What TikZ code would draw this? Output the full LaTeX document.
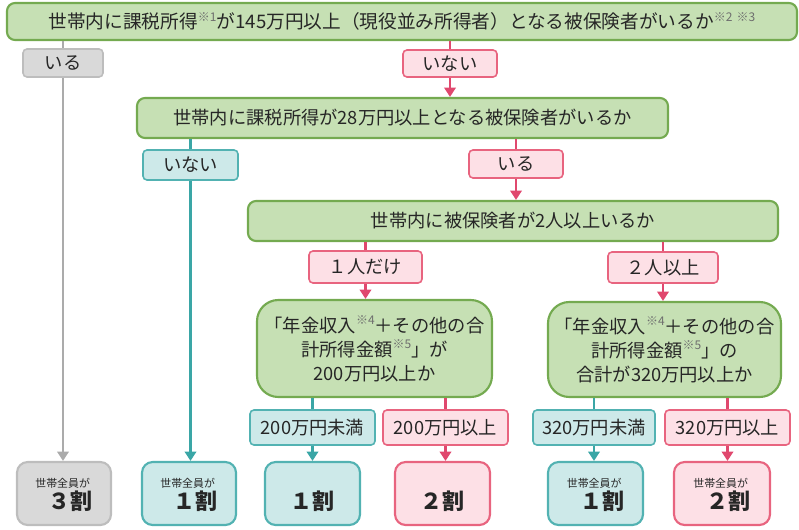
\documentclass[tikz,border=0pt]{standalone}
\usepackage{fontspec}
\setmainfont{Noto Sans CJK JP}
\usetikzlibrary{arrows.meta}
\definecolor{gfill}{HTML}{C6E0B4}
\definecolor{gdraw}{HTML}{74AA50}
\definecolor{grfill}{HTML}{D9D9D9}
\definecolor{grdraw}{HTML}{BDBDBD}
\definecolor{grline}{HTML}{ABABAB}
\definecolor{pfill}{HTML}{FDE0E6}
\definecolor{pdraw}{HTML}{E8647F}
\definecolor{pline}{HTML}{E0486E}
\definecolor{tfill}{HTML}{CDE9E9}
\definecolor{tdraw}{HTML}{52B2B2}
\definecolor{tline}{HTML}{3AA6A6}
\definecolor{txt}{HTML}{262626}
\definecolor{kome}{HTML}{6E6E6E}
\newcommand\kome[1]{\raisebox{0.42em}{\fontsize{9}{9}\selectfont\color{kome}※#1}}
\newcommand\finA[1]{\begin{tabular}{@{}l@{}}{\fontsize{8.2}{9}\selectfont 世帯全員が}\\[-3pt]\hspace{10pt}{\fontsize{16.5}{18}\selectfont\bfseries #1}\end{tabular}}
\newcommand\finB[1]{\begin{tabular}{@{}c@{}}{\fontsize{8.2}{9}\selectfont\phantom{世帯全員が}}\\[-3pt]{\fontsize{16.5}{18}\selectfont\bfseries #1}\end{tabular}}
\begin{document}
\begin{tikzpicture}[x=0.75pt,y=-0.75pt,
  sz/.style 2 args={minimum width=#1*0.75pt,minimum height=#2*0.75pt},
  base/.style={inner sep=0pt,text=txt,font=\fontsize{13.7}{18}\selectfont},
  gbox/.style={base,draw=gdraw,fill=gfill,line width=1.6pt,rounded corners=6pt},
  gq/.style={base,draw=gdraw,fill=gfill,line width=1.6pt,rounded corners=16pt,align=center},
  glab/.style={base,draw=grdraw,fill=grfill,line width=1.2pt,rounded corners=3pt},
  plab/.style={base,draw=pdraw,fill=pfill,line width=1.2pt,rounded corners=3pt},
  tlab/.style={base,draw=tdraw,fill=tfill,line width=1.2pt,rounded corners=3pt},
  gfin/.style={base,draw=grdraw,fill=grfill,line width=1.6pt,rounded corners=8pt},
  pfin/.style={base,draw=pdraw,fill=pfill,line width=1.6pt,rounded corners=8pt},
  tfin/.style={base,draw=tdraw,fill=tfill,line width=1.6pt,rounded corners=8pt},
  tip/.style={-{Triangle[width=8.5pt,length=7pt]}},
  grl/.style={draw=grline,line width=2pt},
  pl/.style={draw=pline,line width=2pt},
  tl/.style={draw=tline,line width=2pt}]
\useasboundingbox (0,0) rectangle (799,529);
% decision boxes
\node[gbox,sz={790}{37},font=\fontsize{14}{18}\selectfont] (top) at (402,21.5) {世帯内に課税所得\kome{1}が145万円以上（現役並み所得者）となる被保険者がいるか\kome{2} \kome{3}};
\node[gbox,sz={531}{40}] (q2) at (402.5,118) {世帯内に課税所得が28万円以上となる被保険者がいるか};
\node[gbox,sz={530}{40}] (q3) at (513,221) {世帯内に被保険者が2人以上いるか};
\node[gq,sz={235}{97}] (gL) at (374.5,348.5) {「年金収入\kome{4}＋その他の合\\計所得金額\kome{5}」が\\200万円以上か};
\node[gq,sz={233}{95}] (gR) at (664.5,349.5) {「年金収入\kome{4}＋その他の合\\計所得金額\kome{5}」の\\合計が320万円以上か};
% labels
\node[glab,sz={80}{28}] (iru1) at (63,63) {いる};
\node[plab,sz={94}{27}] (inai1) at (450,63.5) {いない};
\node[tlab,sz={95}{30}] (inai2) at (190.5,165) {いない};
\node[plab,sz={94}{28}] (iru2) at (516,164) {いる};
\node[plab,sz={113}{32}] (one) at (365.5,267) {１人だけ};
\node[plab,sz={110}{31}] (two) at (663,267.5) {２人以上};
\node[tlab,sz={125}{35}] (lt200) at (312.5,427.5) {200万円未満};
\node[plab,sz={125}{35}] (ge200) at (445.5,427.5) {200万円以上};
\node[tlab,sz={122}{35}] (lt320) at (594,427.5) {320万円未満};
\node[plab,sz={125}{35}] (ge320) at (727.5,427.5) {320万円以上};
% results
\node[gfin,sz={94}{63}] (f1) at (64,493.5) {\finA{３割}};
\node[tfin,sz={94}{63}] (f2) at (189,493.5) {\finA{１割}};
\node[tfin,sz={95}{63}] (f3) at (312.5,493.5) {\finB{１割}};
\node[pfin,sz={95}{63}] (f4) at (442.5,493.5) {\finB{２割}};
\node[tfin,sz={95}{63}] (f5) at (595.5,493.5) {\finA{１割}};
\node[pfin,sz={96}{63}] (f6) at (722,493.5) {\finA{２割}};
% connectors
\draw[grl] (iru1.north |- top.south) -- (iru1.north);
\draw[grl,tip] (iru1.south) -- (iru1.south |- f1.north);
\draw[pl] (inai1.north |- top.south) -- (inai1.north);
\draw[pl,tip] (inai1.south) -- (inai1.south |- q2.north);
\draw[tl] (inai2.north |- q2.south) -- (inai2.north);
\draw[tl,tip] (inai2.south) -- (inai2.south |- f2.north);
\draw[pl] (iru2.north |- q2.south) -- (iru2.north);
\draw[pl,tip] (iru2.south) -- (iru2.south |- q3.north);
\draw[pl] (one.north |- q3.south) -- (one.north);
\draw[pl,tip] (one.south) -- (one.south |- gL.north);
\draw[pl] (two.north |- q3.south) -- (two.north);
\draw[pl,tip] (two.south) -- (two.south |- gR.north);
\draw[tl] (lt200.north |- gL.south) -- (lt200.north);
\draw[tl,tip] (lt200.south) -- (lt200.south |- f3.north);
\draw[pl] (ge200.north |- gL.south) -- (ge200.north);
\draw[pl,tip] (ge200.south) -- (ge200.south |- f4.north);
\draw[tl] (lt320.north |- gR.south) -- (lt320.north);
\draw[tl,tip] (lt320.south) -- (lt320.south |- f5.north);
\draw[pl] (ge320.north |- gR.south) -- (ge320.north);
\draw[pl,tip] (ge320.south) -- (ge320.south |- f6.north);
\end{tikzpicture}
\end{document}
